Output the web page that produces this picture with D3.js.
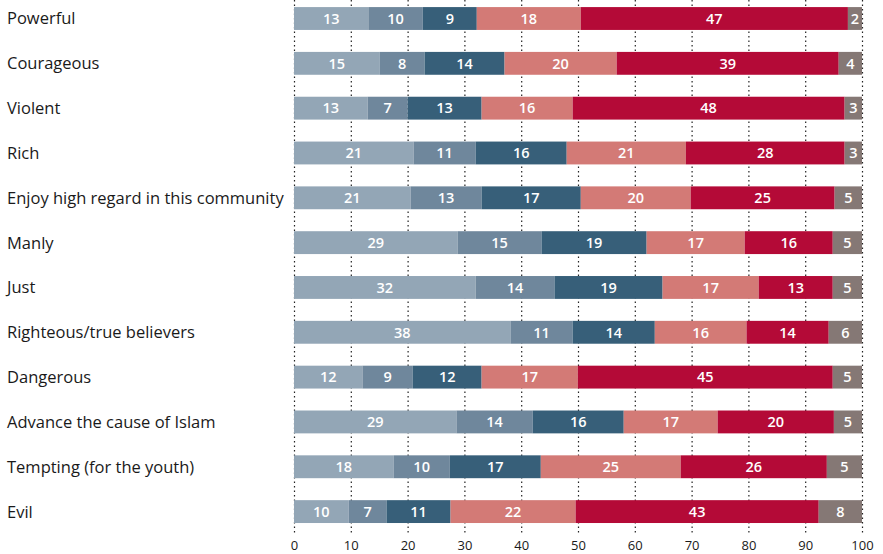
<!DOCTYPE html>
<html><head><meta charset="utf-8">
<script src="https://cdn.jsdelivr.net/npm/d3@7"></script>
<style>body{margin:0;background:#fff}</style>
</head><body>
<svg id="c" width="883" height="554"></svg>
<script>
const categories = ["Powerful","Courageous","Violent","Rich","Enjoy high regard in this community","Manly","Just","Righteous/true believers","Dangerous","Advance the cause of Islam","Tempting (for the youth)","Evil"];
// shares (per cent)
const s1 = [13.09,15.05,12.96,21.04,20.52,28.79,31.99,38.11,12.05,28.6,17.52,9.64];
const s2 = [9.58,7.95,7.04,10.95,12.51,14.79,13.87,10.95,8.86,13.42,9.91,6.65];
const s3 = [9.51,14.07,13.03,16.02,17.46,18.5,19.03,14.46,12.12,16.03,16.02,11.27];
const s4 = [18.31,19.74,16.03,20.98,19.35,17.27,16.93,16.15,16.94,16.54,24.63,22.02];
const s5 = [47.03,39.09,47.88,27.95,25.34,15.5,13.03,14.47,44.88,20.46,25.73,42.8];
const s6 = [2.48,4.1,3.06,3.06,4.82,5.15,5.15,5.86,5.15,4.95,6.19,7.62];
// printed labels
const l1 = [13,15,13,21,21,29,32,38,12,29,18,10];
const l2 = [10,8,7,11,13,15,14,11,9,14,10,7];
const l3 = [9,14,13,16,17,19,19,14,12,16,17,11];
const l4 = [18,20,16,21,20,17,17,16,17,17,25,22];
const l5 = [47,39,48,28,25,16,13,14,45,20,26,43];
const l6 = [2,4,3,3,5,5,5,6,5,5,5,8];
const tickValues = [0,10,20,30,40,50,60,70,80,90,100];
const colors = ["#93a6b6","#6f879c","#375f79","#d37a76","#b40a37","#857875"];

const series = [s1,s2,s3,s4,s5,s6];
const labels = [l1,l2,l3,l4,l5,l6];
const svg = d3.select("#c");
const x = d3.scaleLinear().domain([0,100]).range([294,862]);
const y = d3.scaleBand().domain(categories).range([-3.9,534]).paddingInner(0.49).paddingOuter(0.245);
const font = "'Open Sans', sans-serif";

// grid
svg.append("g").selectAll("line").data(tickValues).join("line")
  .attr("x1",d=>x(d)+0.5).attr("x2",d=>x(d)+0.5).attr("y1",0).attr("y2",534)
  .attr("stroke","#222").attr("stroke-width",1.2).attr("stroke-dasharray","1.5,3");

const rows = categories.map((c,i)=>{
  let acc = 0;
  return series.map((s,j)=>{const a=acc; acc+=s[i]; return {c, v:labels[j][i], j, x0:a, x1:Math.min(acc,100)};});
});

const g = svg.append("g");
rows.forEach(r=>{
  g.selectAll(null).data(r).join("rect")
    .attr("x",d=>x(d.x0)).attr("width",d=>x(d.x1)-x(d.x0))
    .attr("y",d=>y(d.c)).attr("height",y.bandwidth())
    .attr("fill",d=>colors[d.j]);
  g.selectAll(null).data(r).join("text")
    .attr("x",d=>(x(d.x0)+x(d.x1))/2).attr("y",d=>y(d.c)+y.bandwidth()/2)
    .attr("dy","0.36em").attr("text-anchor","middle")
    .attr("fill","#fff").attr("font-family",font).attr("font-size",14.5).attr("font-weight",600)
    .text(d=>d.v);
});

svg.append("g").selectAll("text").data(categories).join("text")
  .attr("x",7).attr("y",d=>y(d)+y.bandwidth()/2).attr("dy","0.36em")
  .attr("font-family",font).attr("font-size",16.5).attr("fill","#1a1a1a")
  .text(d=>d);

const ax = svg.append("g").attr("transform","translate(0,533)")
  .call(d3.axisBottom(x).tickValues(tickValues).tickSize(0).tickPadding(8));
ax.select(".domain").remove();
ax.selectAll("text").attr("font-family",font).attr("font-size",13).attr("fill","#1a1a1a");
</script>
</body></html>
